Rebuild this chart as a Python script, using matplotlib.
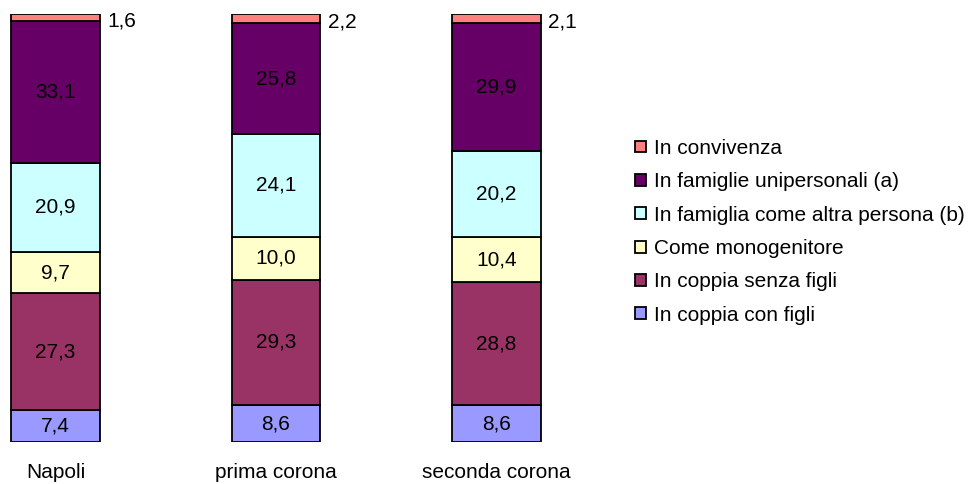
import matplotlib.pyplot as plt
import numpy as np

plt.rcParams['font.family'] = ['Liberation Sans', 'DejaVu Sans']

# Categories and series (bottom to top)
areas = ['Napoli', 'prima corona', 'seconda corona']
series = ['In coppia con figli', 'In coppia senza figli', 'Come monogenitore',
          'In famiglia come altra persona (b)', 'In famiglie unipersonali (a)',
          'In convivenza']
coppia_figli = [7.4, 8.6, 8.6]
coppia_senza = [27.3, 29.3, 28.8]
monogenitore = [9.7, 10.0, 10.4]
altra_persona = [20.9, 24.1, 20.2]
unipersonali = [33.1, 25.8, 29.9]
convivenza = [1.6, 2.2, 2.1]
colors = ['#9999FF', '#993366', '#FFFFCC', '#CCFFFF', '#660066', '#FF8080']

values = [coppia_figli, coppia_senza, monogenitore, altra_persona, unipersonali, convivenza]

fig = plt.figure(figsize=(9.76, 4.84), dpi=100)
ax = fig.add_axes([0.0004, 0.0868, 0.5648, 0.8843])

fs = 15
x = np.arange(len(areas))
width = 0.40
bottom = np.zeros(len(areas))
for name, vals, col in zip(series, values, colors):
    ax.bar(x, vals, width, bottom=bottom, color=col, edgecolor='black',
           linewidth=1.3, label=name)
    for i, v in enumerate(vals):
        if v < 5:
            # small segments labeled to the right
            ax.text(x[i] + width / 2 + 0.035, bottom[i] + v / 2 - 0.8, f'{v:.1f}'.replace('.', ','),
                    ha='left', va='center', fontsize=fs)
        else:
            ax.text(x[i], bottom[i] + v / 2, f'{v:.1f}'.replace('.', ','),
                    ha='center', va='center', fontsize=fs, color='black')
    bottom += np.array(vals)

ax.set_xlim(-0.25, 2.25)
ax.set_ylim(0, 100)
ax.set_xticks(x)
ax.set_xticklabels(areas, fontsize=fs)
ax.tick_params(axis='x', length=0, pad=15)
ax.set_yticks([])
for s in ax.spines.values():
    s.set_visible(False)

handles, labels = ax.get_legend_handles_labels()
leg = fig.legend(handles[::-1], labels[::-1], loc='center left',
                 bbox_to_anchor=(0.6425, 0.521), frameon=False, fontsize=fs,
                 handlelength=0.5, handleheight=0.5, handletextpad=0.4,
                 labelspacing=0.69, borderaxespad=0)

fig.savefig('out.png', dpi=100)
